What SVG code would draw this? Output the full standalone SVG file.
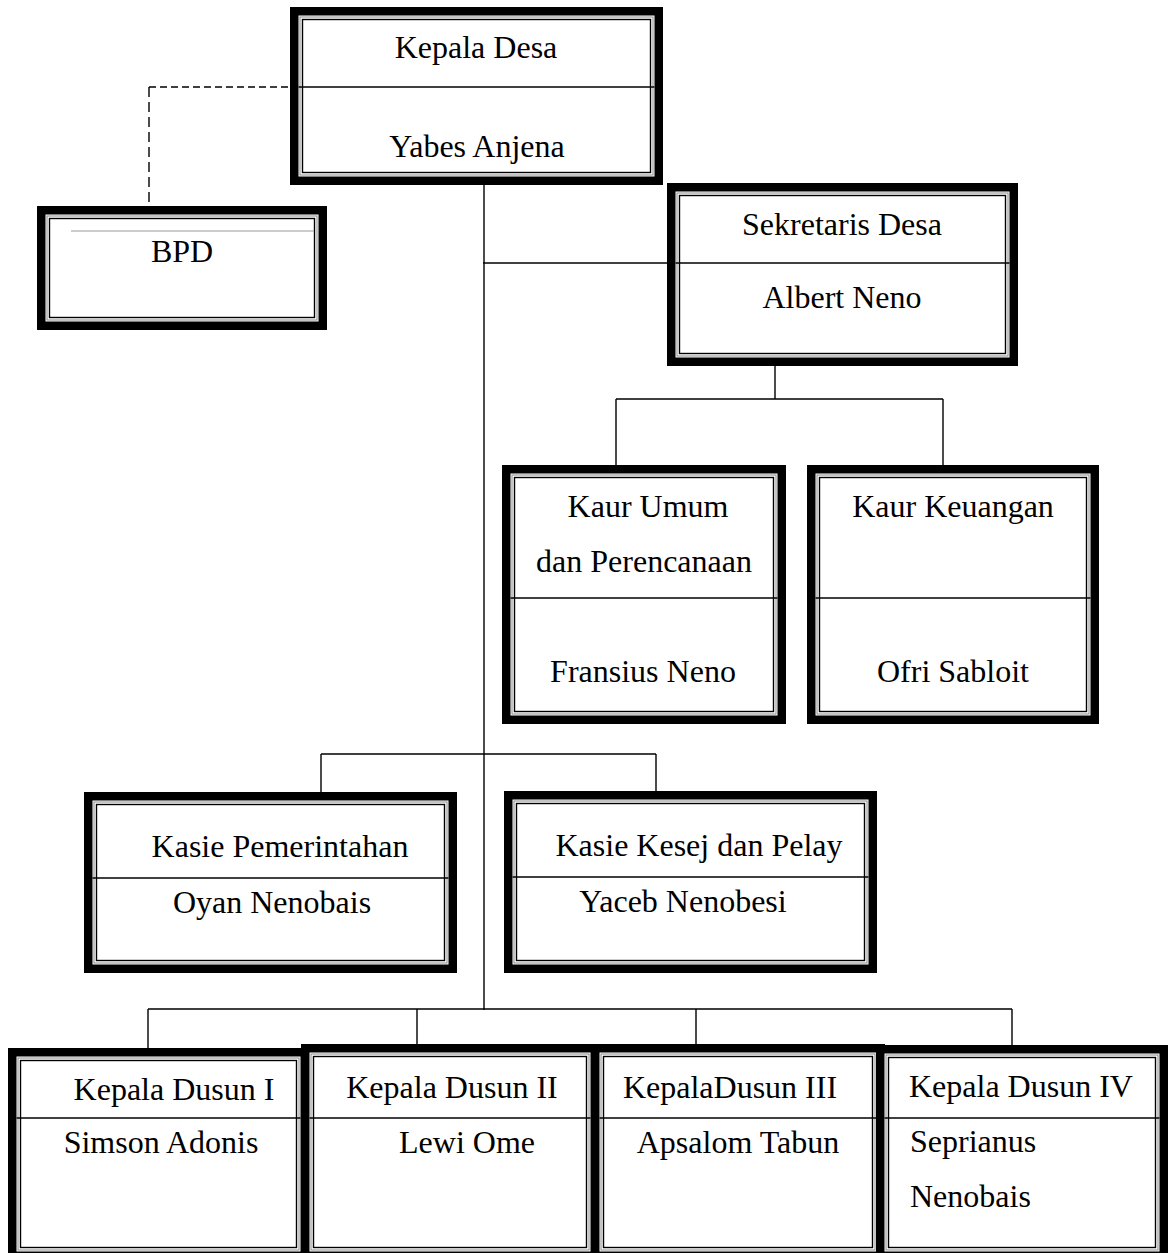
<svg xmlns="http://www.w3.org/2000/svg" width="1171" height="1253" viewBox="0 0 1171 1253">
<style>
.o{fill:#fff;stroke:#000;stroke-width:8.5}
.g{fill:none;stroke:#8a8a8a;stroke-width:1}
.b{fill:none;stroke:#000;stroke-width:1.4}
.d{stroke:#000;stroke-width:1.4}
.c{fill:none;stroke:#000;stroke-width:1.4}
.dash{fill:none;stroke:#000;stroke-width:1.4}
text{font-family:"Liberation Serif","Times New Roman",serif;font-size:32px;fill:#000}
.m{text-anchor:middle}
</style>
<rect width="1171" height="1253" fill="#fff"/>
<g id="connectors">
<path class="dash" d="M149 87H290" stroke-dasharray="7 4"/>
<path class="dash" d="M149 87V206" stroke-dasharray="10 5"/>
<path class="c" d="M484 185V1010"/>
<path class="c" d="M483 263H667"/>
<path class="c" d="M775 366V399M616 399H943M616 399V465M943 399V465"/>
<path class="c" d="M321 754H656M321 754V792M656 754V791"/>
<path class="c" d="M148 1009H1012M148 1009V1048M417 1009V1044M696 1009V1044M1012 1009V1045"/>
</g>
<g id="kepala-desa">
<rect class="o" x="294.25" y="11.25" width="364.5" height="169.5"/>
<rect class="g" x="300" y="17" width="353" height="158"/>
<rect class="b" x="302.5" y="19.5" width="348" height="153"/>
<path class="d" d="M298.5 87H654.5"/>
<text class="m" x="476" y="58">Kepala Desa</text>
<text class="m" x="477" y="157">Yabes Anjena</text>
</g>
<g id="bpd">
<rect class="o" x="41.25" y="210.25" width="281.5" height="115.5"/>
<rect class="g" x="47" y="216" width="270" height="104"/>
<rect class="b" x="49.5" y="218.5" width="265" height="99"/>
<path stroke="#999" stroke-width="1.2" d="M71 231H314"/>
<text class="m" x="182" y="262">BPD</text>
</g>
<g id="sekretaris-desa">
<rect class="o" x="671.25" y="187.25" width="342.5" height="174.5"/>
<rect class="g" x="677" y="193" width="331" height="163"/>
<rect class="b" x="679.5" y="195.5" width="326" height="158"/>
<path class="d" d="M675.5 263H1009.5"/>
<text class="m" x="842" y="235">Sekretaris Desa</text>
<text class="m" x="842" y="308">Albert Neno</text>
</g>
<g id="kaur-umum">
<rect class="o" x="506.25" y="469.25" width="275.5" height="250.5"/>
<rect class="g" x="512" y="475" width="264" height="239"/>
<rect class="b" x="514.5" y="477.5" width="259" height="234"/>
<path class="d" d="M510.5 598H777.5"/>
<text class="m" x="648" y="517">Kaur Umum</text>
<text class="m" x="644" y="572">dan Perencanaan</text>
<text class="m" x="643" y="682">Fransius Neno</text>
</g>
<g id="kaur-keuangan">
<rect class="o" x="811.25" y="469.25" width="283.5" height="250.5"/>
<rect class="g" x="817" y="475" width="272" height="239"/>
<rect class="b" x="819.5" y="477.5" width="267" height="234"/>
<path class="d" d="M815.5 598H1090.5"/>
<text class="m" x="953" y="517">Kaur Keuangan</text>
<text class="m" x="953" y="682">Ofri Sabloit</text>
</g>
<g id="kasie-pemerintahan">
<rect class="o" x="88.25" y="796.25" width="364.5" height="172.5"/>
<rect class="g" x="94" y="802" width="353" height="161"/>
<rect class="b" x="96.5" y="804.5" width="348" height="156"/>
<path class="d" d="M92.5 878H448.5"/>
<text class="m" x="280" y="857">Kasie Pemerintahan</text>
<text class="m" x="272" y="913">Oyan Nenobais</text>
</g>
<g id="kasie-kesej">
<rect class="o" x="508.25" y="795.25" width="364.5" height="173.5"/>
<rect class="g" x="514" y="801" width="353" height="162"/>
<rect class="b" x="516.5" y="803.5" width="348" height="157"/>
<path class="d" d="M512.5 877H868.5"/>
<text class="m" x="699" y="856">Kasie Kesej dan Pelay</text>
<text class="m" x="683" y="912">Yaceb Nenobesi</text>
</g>
<g id="kepala-dusun-1">
<rect class="o" x="12.25" y="1052.25" width="292.5" height="203.5"/>
<rect class="g" x="18" y="1058" width="281" height="192"/>
<rect class="b" x="20.5" y="1060.5" width="276" height="187"/>
<path class="d" d="M16.5 1118H300.5"/>
<text class="m" x="174" y="1100">Kepala Dusun I</text>
<text class="m" x="161" y="1153">Simson Adonis</text>
</g>
<g id="kepala-dusun-2">
<rect class="o" x="305.25" y="1048.25" width="289.5" height="207.5"/>
<rect class="g" x="311" y="1054" width="278" height="196"/>
<rect class="b" x="313.5" y="1056.5" width="273" height="191"/>
<path class="d" d="M309.5 1118H590.5"/>
<text class="m" x="452" y="1098">Kepala Dusun II</text>
<text class="m" x="467" y="1153">Lewi Ome</text>
</g>
<g id="kepala-dusun-3">
<rect class="o" x="595.25" y="1048.25" width="285.5" height="207.5"/>
<rect class="g" x="601" y="1054" width="274" height="196"/>
<rect class="b" x="603.5" y="1056.5" width="269" height="191"/>
<path class="d" d="M599.5 1118H876.5"/>
<text class="m" x="730" y="1098">KepalaDusun III</text>
<text class="m" x="738" y="1153">Apsalom Tabun</text>
</g>
<g id="kepala-dusun-4">
<rect class="o" x="880.25" y="1049.25" width="283.5" height="206.5"/>
<rect class="g" x="886" y="1055" width="272" height="195"/>
<rect class="b" x="888.5" y="1057.5" width="267" height="190"/>
<path class="d" d="M884.5 1118H1159.5"/>
<text x="909" y="1097">Kepala Dusun IV</text>
<text x="910" y="1152">Seprianus</text>
<text x="910" y="1207">Nenobais</text>
</g>
</svg>
